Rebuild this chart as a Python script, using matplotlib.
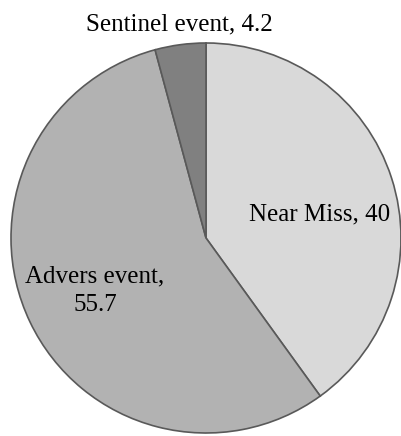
import matplotlib
matplotlib.use("Agg")
import matplotlib.pyplot as plt

# --- data ---------------------------------------------------------------------
labels = ["Near Miss", "Advers event", "Sentinel event"]
values = [40, 55.7, 4.2]
colors = ["#d9d9d9", "#b2b2b2", "#808080"]

W, H = 401, 436
plt.rcParams["font.family"] = ["Liberation Serif", "DejaVu Serif"]

fig = plt.figure(figsize=(W / 100, H / 100), dpi=100)
ax = fig.add_axes([0, 0, 1, 1])
ax.set_aspect("equal")

# pie in pixel coordinates (y axis inverted -> counterclock=True draws clockwise)
cx, cy, r = 206, 238, 195
ax.pie(values, colors=colors, startangle=-90, counterclock=True,
       center=(cx, cy), radius=r, frame=True,
       wedgeprops=dict(edgecolor="#595959", linewidth=1.2))
ax.set_xlim(0, W)
ax.set_ylim(H, 0)
ax.axis("off")

fmt = lambda v: f"{v:g}"
ax.text(320, 214, f"{labels[0]}, {fmt(values[0])}", ha="center", va="center",
        fontsize=18)
ax.text(95, 291, f"{labels[1]},\n{fmt(values[1])}", ha="center", va="center",
        fontsize=18, linespacing=1.4)
ax.text(179, 24, f"{labels[2]}, {fmt(values[2])}", ha="center", va="center",
        fontsize=18)

fig.savefig("out.png", dpi=100)
